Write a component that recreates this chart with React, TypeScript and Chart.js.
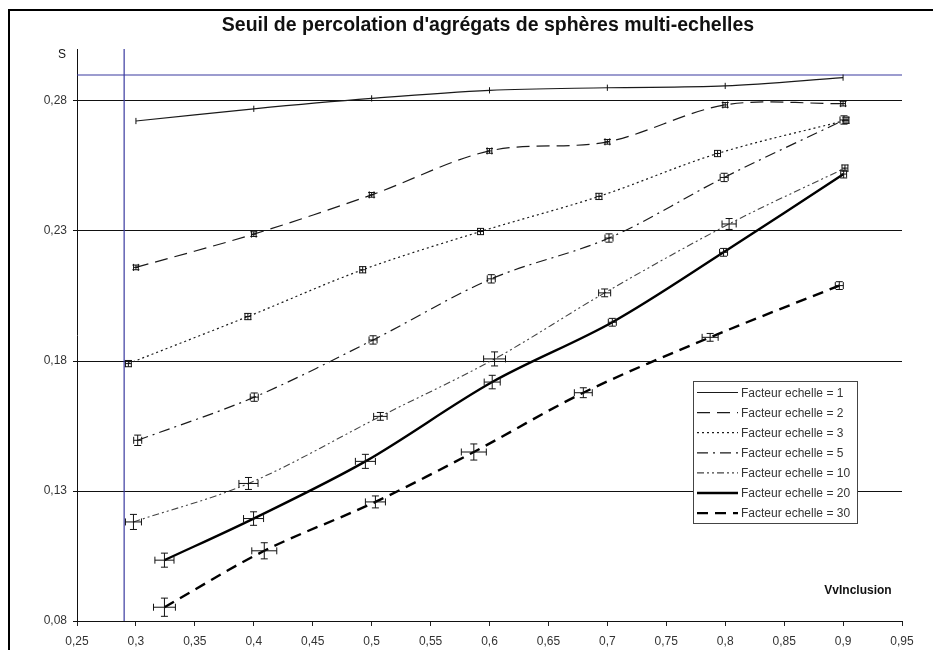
import React, { useEffect, useRef } from 'react';
import { Chart, registerables } from 'chart.js';

Chart.register(...registerables);

const TITLE = "Seuil de percolation d'agrégats de sphères multi-echelles";
const Y_AXIS_LABEL = 'S';
const X_AXIS_LABEL = 'VvInclusion';

const X_TICKS = [0.25, 0.3, 0.35, 0.4, 0.45, 0.5, 0.55, 0.6, 0.65, 0.7, 0.75, 0.8, 0.85, 0.9, 0.95];
const Y_TICKS = [0.08, 0.13, 0.18, 0.23, 0.28];
const X_MIN = 0.25;
const X_MAX = 0.95;
const Y_MIN = 0.08;
const Y_MAX = 0.3;
const THRESHOLD = 0.29;

const LABELS = [
  'Facteur echelle = 1',
  'Facteur echelle = 2',
  'Facteur echelle = 3',
  'Facteur echelle = 5',
  'Facteur echelle = 10',
  'Facteur echelle = 20',
  'Facteur echelle = 30',
];

// Facteur echelle = 1
const S1_X = [0.3, 0.4, 0.5, 0.6, 0.7, 0.8, 0.9];
const S1_Y = [0.2723, 0.277, 0.281, 0.2841, 0.2851, 0.2858, 0.289];
const S1_XERR = [0, 0, 0, 0, 0, 0, 0];
const S1_YERR = [0.0012, 0.0012, 0.0012, 0.0012, 0.0012, 0.0012, 0.0012];

// Facteur echelle = 2
const S2_X = [0.3, 0.4, 0.5, 0.6, 0.7, 0.8, 0.9];
const S2_Y = [0.216, 0.2288, 0.2439, 0.2608, 0.2643, 0.2785, 0.279];
const S2_XERR = [0.002, 0.002, 0.002, 0.002, 0.002, 0.002, 0.002];
const S2_YERR = [0.0009, 0.0009, 0.0009, 0.0009, 0.0009, 0.0009, 0.0009];

// Facteur echelle = 3
const S3_X = [0.2936, 0.395, 0.4924, 0.5924, 0.6929, 0.7935, 0.9025];
const S3_Y = [0.179, 0.1971, 0.2151, 0.2298, 0.2433, 0.2598, 0.2726];
const S3_XERR = [0.0025, 0.0025, 0.0025, 0.0025, 0.0025, 0.0025, 0.0025];
const S3_YERR = [0.0012, 0.0012, 0.0012, 0.0012, 0.0012, 0.0012, 0.0012];

// Facteur echelle = 5
const S5_X = [0.3015, 0.4004, 0.5012, 0.6015, 0.7014, 0.7991, 0.9008];
const S5_Y = [0.1495, 0.1661, 0.1881, 0.2116, 0.2273, 0.2506, 0.2727];
const S5_XERR = [0.0034, 0.0034, 0.0034, 0.0034, 0.0034, 0.0034, 0.0034];
const S5_YERR = [0.002, 0.0016, 0.0016, 0.0016, 0.0016, 0.0016, 0.0016];

// Facteur echelle = 10
const S10_X = [0.2979, 0.3955, 0.5074, 0.6043, 0.6977, 0.8033, 0.9016];
const S10_Y = [0.1181, 0.1329, 0.1587, 0.1808, 0.2062, 0.2327, 0.2542];
const S10_XERR = [0.0068, 0.0081, 0.0057, 0.0093, 0.0051, 0.006, 0.0025];
const S10_YERR = [0.0029, 0.0023, 0.0015, 0.0027, 0.0015, 0.0021, 0.0012];

// Facteur echelle = 20
const S20_X = [0.3242, 0.3998, 0.4947, 0.6023, 0.7042, 0.7986, 0.9005];
const S20_Y = [0.1034, 0.1194, 0.1414, 0.1719, 0.1949, 0.2218, 0.2519];
const S20_XERR = [0.0081, 0.0085, 0.0085, 0.0068, 0.0034, 0.0034, 0.0025];
const S20_YERR = [0.0027, 0.0026, 0.0027, 0.0026, 0.0015, 0.0015, 0.0015];

// Facteur echelle = 30
const S30_X = [0.3242, 0.4089, 0.5032, 0.5867, 0.6796, 0.7872, 0.8968];
const S30_Y = [0.0853, 0.107, 0.1258, 0.145, 0.1678, 0.1891, 0.209];
const S30_XERR = [0.0093, 0.0106, 0.0085, 0.0106, 0.0076, 0.0068, 0.0034];
const S30_YERR = [0.0035, 0.0031, 0.0023, 0.0031, 0.0019, 0.0015, 0.0015];

const SERIES_X = [S1_X, S2_X, S3_X, S5_X, S10_X, S20_X, S30_X];
const SERIES_Y = [S1_Y, S2_Y, S3_Y, S5_Y, S10_Y, S20_Y, S30_Y];
const SERIES_XERR = [S1_XERR, S2_XERR, S3_XERR, S5_XERR, S10_XERR, S20_XERR, S30_XERR];
const SERIES_YERR = [S1_YERR, S2_YERR, S3_YERR, S5_YERR, S10_YERR, S20_YERR, S30_YERR];

// styles (kept separate from data)
const STYLES = [
  { color: '#1a1a1a', width: 1.2, dash: [] as number[], caps: false },
  { color: '#1a1a1a', width: 1.2, dash: [13, 7], caps: true },
  { color: '#1a1a1a', width: 1.2, dash: [2, 3], caps: true },
  { color: '#1a1a1a', width: 1.2, dash: [11, 5, 2, 5], caps: true },
  { color: '#444444', width: 1.1, dash: [7, 3, 2, 3, 2, 3], caps: true },
  { color: '#000000', width: 2.4, dash: [] as number[], caps: true },
  { color: '#000000', width: 2.4, dash: [11, 7], caps: true },
];

const FONT = "Arial, 'Liberation Sans', sans-serif";
const BLUE = '#3a3aa0';

function fmt(v: number): string {
  return String(Number(v.toFixed(2))).replace('.', ',');
}

const errorBarsPlugin = {
  id: 'errorBars',
  afterDatasetsDraw(chart: any) {
    const { ctx, scales } = chart;
    const xs = scales.x;
    const ys = scales.y;
    ctx.save();
    ctx.strokeStyle = '#111';
    ctx.lineWidth = 1;
    ctx.setLineDash([]);
    for (let s = 0; s < SERIES_X.length; s++) {
      const cap = STYLES[s].caps ? 3.5 : 0;
      for (let i = 0; i < SERIES_X[s].length; i++) {
        const x = SERIES_X[s][i];
        const y = SERIES_Y[s][i];
        const ex = SERIES_XERR[s][i];
        const ey = SERIES_YERR[s][i];
        const px = xs.getPixelForValue(x);
        const py = ys.getPixelForValue(y);
        ctx.beginPath();
        if (ex > 0) {
          const x1 = xs.getPixelForValue(x - ex);
          const x2 = xs.getPixelForValue(x + ex);
          ctx.moveTo(x1, py);
          ctx.lineTo(x2, py);
          if (cap) {
            ctx.moveTo(x1, py - cap);
            ctx.lineTo(x1, py + cap);
            ctx.moveTo(x2, py - cap);
            ctx.lineTo(x2, py + cap);
          }
        }
        if (ey > 0) {
          const y1 = ys.getPixelForValue(y - ey);
          const y2 = ys.getPixelForValue(y + ey);
          ctx.moveTo(px, y1);
          ctx.lineTo(px, y2);
          if (cap) {
            ctx.moveTo(px - cap, y1);
            ctx.lineTo(px + cap, y1);
            ctx.moveTo(px - cap, y2);
            ctx.lineTo(px + cap, y2);
          }
        }
        ctx.stroke();
      }
    }
    ctx.restore();
  },
};

const decorPlugin = {
  id: 'decor',
  afterDraw(chart: any) {
    const { ctx } = chart;
    ctx.save();
    // frame
    ctx.fillStyle = '#000';
    ctx.fillRect(8, 9, 933, 2);
    ctx.fillRect(8, 9, 2, 650);

    // title
    ctx.fillStyle = '#111';
    ctx.font = `bold 19.5px ${FONT}`;
    ctx.textAlign = 'center';
    ctx.textBaseline = 'middle';
    ctx.fillText(TITLE, 488, 26);

    // axis labels
    ctx.font = `12px ${FONT}`;
    ctx.fillStyle = '#111';
    ctx.fillText(Y_AXIS_LABEL, 62, 55);
    ctx.font = `bold 12px ${FONT}`;
    ctx.fillText(X_AXIS_LABEL, 858, 591);

    // legend
    const lx = 693;
    const ly = 381;
    const lw = 164;
    const lh = 142;
    ctx.fillStyle = '#fff';
    ctx.fillRect(lx, ly, lw, lh);
    ctx.strokeStyle = '#444';
    ctx.lineWidth = 1;
    ctx.strokeRect(lx + 0.5, ly + 0.5, lw, lh);
    ctx.font = `12px ${FONT}`;
    ctx.textAlign = 'left';
    ctx.textBaseline = 'middle';
    for (let i = 0; i < LABELS.length; i++) {
      const yy = ly + 11.5 + i * 20.1;
      const st = STYLES[i];
      ctx.beginPath();
      ctx.strokeStyle = st.color;
      ctx.lineWidth = st.width;
      ctx.setLineDash(st.dash);
      ctx.moveTo(lx + 4, yy);
      ctx.lineTo(lx + 45, yy);
      ctx.stroke();
      ctx.setLineDash([]);
      ctx.fillStyle = '#333';
      ctx.fillText(LABELS[i], lx + 48, yy + 1);
    }
    ctx.restore();
  },
};

export default function App() {
  const ref = useRef<HTMLCanvasElement | null>(null);

  useEffect(() => {
    if (!ref.current) return;
    const datasets: any[] = LABELS.map((label, s) => ({
      label,
      data: SERIES_X[s].map((x, i) => ({ x, y: SERIES_Y[s][i] })),
      borderColor: STYLES[s].color,
      borderWidth: STYLES[s].width,
      borderDash: STYLES[s].dash,
      pointRadius: 0,
      pointHoverRadius: 0,
      tension: 0.33,
      fill: false,
    }));
    datasets.push({
      label: 'v',
      data: [
        { x: THRESHOLD, y: Y_MIN },
        { x: THRESHOLD, y: Y_MAX },
      ],
      borderColor: BLUE,
      borderWidth: 1.2,
      pointRadius: 0,
      fill: false,
    });
    datasets.push({
      label: 'h',
      data: [
        { x: X_MIN, y: THRESHOLD },
        { x: X_MAX, y: THRESHOLD },
      ],
      borderColor: BLUE,
      borderWidth: 1.2,
      pointRadius: 0,
      fill: false,
    });

    const chart = new Chart(ref.current, {
      type: 'line',
      data: { datasets },
      options: {
        responsive: false,
        animation: false,
        devicePixelRatio: 1,
        layout: { padding: { left: 0, top: 49, right: 31, bottom: 0 } },
        plugins: {
          legend: { display: false },
          tooltip: { enabled: false },
          title: { display: false },
        },
        scales: {
          x: {
            type: 'linear',
            min: X_MIN,
            max: X_MAX,
            afterBuildTicks: (scale: any) => {
              scale.ticks = X_TICKS.map((v) => ({ value: v }));
            },
            afterFit: (scale: any) => {
              scale.height = 29;
            },
            grid: {
              drawOnChartArea: false,
              drawTicks: true,
              tickLength: 5,
              color: '#222',
            },
            border: { display: true, color: '#111', width: 1 },
            ticks: {
              autoSkip: false,
              maxRotation: 0,
              padding: 8,
              color: '#333',
              font: { family: FONT, size: 12 },
              callback: (v: any) => fmt(Number(v)),
            },
          },
          y: {
            type: 'linear',
            min: Y_MIN,
            max: Y_MAX,
            afterBuildTicks: (scale: any) => {
              scale.ticks = Y_TICKS.map((v) => ({ value: v }));
            },
            afterFit: (scale: any) => {
              scale.width = 77;
            },
            grid: {
              drawOnChartArea: true,
              drawTicks: true,
              tickLength: 4,
              color: '#111',
              lineWidth: 1,
            },
            border: { display: true, color: '#111', width: 1 },
            ticks: {
              autoSkip: false,
              padding: 6,
              color: '#333',
              font: { family: FONT, size: 12 },
              callback: (v: any) => fmt(Number(v)),
            },
          },
        },
      },
      plugins: [errorBarsPlugin, decorPlugin],
    } as any);
    return () => chart.destroy();
  }, []);

  return (
    <div style={{ position: 'absolute', left: 0, top: 0, width: 933, height: 650, background: '#fff' }}>
      <canvas ref={ref} width={933} height={650} style={{ display: 'block' }} />
    </div>
  );
}
